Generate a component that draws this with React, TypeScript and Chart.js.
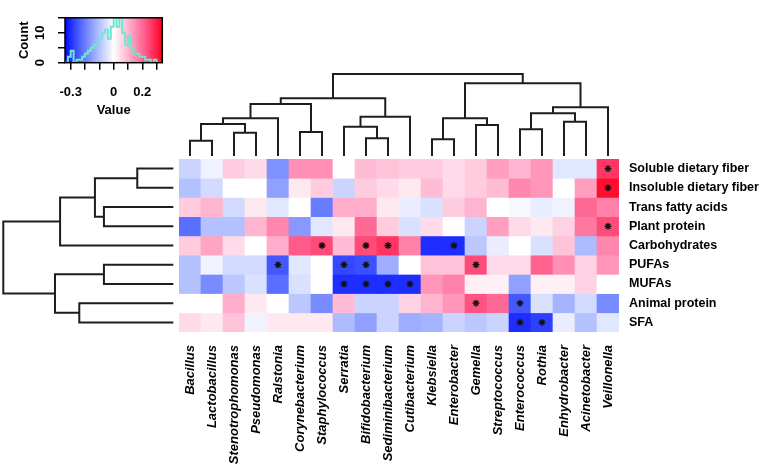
import React, { useEffect, useRef } from 'react';
import { Chart, registerables } from 'chart.js';

Chart.register(...registerables);

const FONT = "'Liberation Sans', Arial, Helvetica, sans-serif";

// ---- data ----
const columns = [
  'Bacillus', 'Lactobacillus', 'Stenotrophomonas', 'Pseudomonas', 'Ralstonia',
  'Corynebacterium', 'Staphylococcus', 'Serratia', 'Bifidobacterium', 'Sediminibacterium',
  'Cutibacterium', 'Klebsiella', 'Enterobacter', 'Gemella', 'Streptococcus',
  'Enterococcus', 'Rothia', 'Enhydrobacter', 'Acinetobacter', 'Veillonella',
];
const rowLabels = [
  'Soluble dietary fiber', 'Insoluble dietary fiber', 'Trans fatty acids', 'Plant protein',
  'Carbohydrates', 'PUFAs', 'MUFAs', 'Animal protein', 'SFA',
];

const solubleFiber = [-0.07, -0.02, 0.07, 0.05, -0.17, 0.15, 0.15, 0.0, 0.09, 0.08, 0.07, 0.07, 0.05, 0.07, 0.13, 0.10, 0.14, -0.04, -0.04, 0.27];
const insolubleFiber = [-0.10, -0.06, 0.0, 0.0, -0.15, 0.03, 0.07, -0.07, 0.07, 0.05, 0.03, 0.09, 0.05, 0.07, 0.09, 0.16, 0.14, 0.0, 0.13, 0.32];
const transFat = [0.07, 0.10, -0.06, 0.03, -0.04, 0.0, -0.20, 0.11, 0.11, 0.03, -0.03, -0.05, 0.07, 0.10, 0.0, -0.01, -0.03, -0.02, 0.20, 0.17];
const plantProtein = [-0.22, -0.10, -0.10, 0.10, 0.16, -0.16, -0.04, 0.03, 0.20, 0.07, -0.05, 0.05, 0.0, -0.07, 0.13, 0.05, 0.03, 0.06, 0.18, 0.24];
const carbohydrates = [0.07, 0.12, 0.05, 0.0, 0.11, 0.22, 0.24, 0.09, 0.24, 0.27, 0.17, -0.30, -0.30, -0.09, -0.03, 0.0, -0.05, 0.08, -0.11, 0.16];
const pufas = [-0.10, -0.02, -0.06, -0.06, -0.25, -0.04, 0.0, -0.27, -0.26, -0.13, 0.0, 0.08, 0.08, 0.24, 0.05, 0.05, 0.21, 0.15, 0.06, 0.14];
const mufas = [-0.10, -0.18, -0.09, -0.05, -0.22, -0.05, 0.0, -0.30, -0.30, -0.30, -0.30, 0.14, 0.17, 0.02, 0.02, -0.15, 0.02, 0.02, 0.06, 0.0];
const animalProtein = [0.0, 0.0, 0.11, 0.03, 0.0, -0.09, -0.18, 0.09, -0.07, -0.07, 0.06, 0.10, 0.14, 0.23, 0.20, -0.25, -0.05, -0.12, -0.06, -0.18];
const sfa = [0.05, 0.03, 0.08, -0.02, 0.03, 0.03, 0.03, -0.11, -0.15, -0.07, -0.13, -0.12, -0.07, -0.09, -0.07, -0.30, -0.28, -0.03, -0.10, -0.04];
const matrix = [solubleFiber, insolubleFiber, transFat, plantProtein, carbohydrates, pufas, mufas, animalProtein, sfa];

// significant cells (asterisks), per row
const significant = [
  ['Veillonella'],
  ['Veillonella'],
  [],
  ['Veillonella'],
  ['Staphylococcus', 'Bifidobacterium', 'Sediminibacterium', 'Enterobacter'],
  ['Ralstonia', 'Serratia', 'Bifidobacterium', 'Gemella'],
  ['Serratia', 'Bifidobacterium', 'Sediminibacterium', 'Cutibacterium'],
  ['Gemella', 'Enterococcus'],
  ['Enterococcus', 'Rothia'],
];

// hclust-style merges: negative = leaf (display position, 1-based), positive = earlier merge
const colMerge = [
  [-1, -2], [-3, -4], [1, 2], [3, -5], [-6, -7], [4, 5], [-9, -10], [-8, 7], [8, -11], [6, 9],
  [-12, -13], [-14, -15], [11, 12], [-16, -17], [-18, -19], [14, 15], [16, -20], [13, 17], [10, 18],
];
const colHeights = [0.187, 0.284, 0.39, 0.46, 0.293, 0.634, 0.216, 0.357, 0.479, 0.704,
  0.204, 0.378, 0.46, 0.326, 0.418, 0.521, 0.594, 0.887, 1.0];
const rowMerge = [[-1, -2], [-3, -4], [1, 2], [3, -5], [-6, -7], [-8, -9], [5, 6], [4, 7]];
const rowHeights = [0.212, 0.408, 0.461, 0.666, 0.408, 0.553, 0.696, 1.0];

// colour key histogram
const keyMin = -0.34;
const keyMax = 0.34;
const histStart = -0.34;
const histStep = 0.02;
const histCounts = [1, 0, 2, 4, 0, 1, 1, 2, 3, 4, 5, 6, 6, 8, 10, 11, 8, 12, 15, 12, 15, 10, 6, 9, 5, 3, 3, 2, 2, 1, 1, 0, 1, 0];
const keyXTicks = [-0.3, -0.2, -0.1, 0, 0.1, 0.2, 0.3];
const keyXLabels = ['-0.3', '', '', '0', '', '0.2', ''];
const keyYTicks = [0, 5, 10, 15];
const keyYLabels = ['0', '', '10', ''];

// ---- helpers ----
function cellColor(v: number): string {
  const t = Math.max(-1, Math.min(1, v / 0.34));
  if (t >= 0) {
    const g = Math.round(255 * (1 - t));
    const b = Math.round(255 * Math.pow(1 - t, 0.6));
    return `rgb(255,${g},${b})`;
  }
  const u = -t;
  const r = Math.round(255 * (1 - u));
  const g = Math.round(255 * Math.pow(1 - u, 0.8));
  return `rgb(${r},${g},255)`;
}

function dendroSegments(merge: number[][], heights: number[]) {
  const pos: number[] = [];
  const nodePos = (id: number) => (id < 0 ? -id - 1 : pos[id - 1]);
  const nodeH = (id: number) => (id < 0 ? 0 : heights[id - 1]);
  const segs: { p: number; h: number }[][] = [];
  merge.forEach(([a, b], i) => {
    const h = heights[i];
    const pa = nodePos(a);
    const pb = nodePos(b);
    segs.push([
      { p: pa, h: nodeH(a) }, { p: pa, h }, { p: pb, h }, { p: pb, h: nodeH(b) },
    ]);
    pos[i] = (pa + pb) / 2;
  });
  return segs;
}

const W = 759;
const H = 469;
const HM_LEFT = 179;
const HM_TOP = 159;
const HM_RIGHT_AXIS = 140;
const HM_BOTTOM_AXIS = 137;

export default function App() {
  const heatRef = useRef<HTMLCanvasElement>(null);
  const colDRef = useRef<HTMLCanvasElement>(null);
  const rowDRef = useRef<HTMLCanvasElement>(null);
  const keyRef = useRef<HTMLCanvasElement>(null);

  useEffect(() => {
    Chart.defaults.color = '#000';
    Chart.defaults.font.family = FONT;
    const charts: Chart[] = [];

    // ---- heatmap ----
    const barSets: any[] = matrix.map((row, r) => ({
      type: 'bar',
      label: rowLabels[r],
      data: row.map(() => 1),
      backgroundColor: row.map((v) => cellColor(v)),
      borderWidth: 0,
      barPercentage: 1,
      categoryPercentage: 1,
      stack: 'heat',
      yAxisID: 'y',
      order: 1,
    }));
    const starPts: { x: string; y: number }[] = [];
    significant.forEach((cols, r) => cols.forEach((c) => starPts.push({ x: c, y: r + 0.5 })));
    const starSet: any = {
      type: 'line',
      label: 'sig',
      data: starPts,
      showLine: false,
      pointStyle: 'star',
      pointRadius: 3.5,
      pointBorderColor: '#111',
      pointBackgroundColor: '#111',
      pointBorderWidth: 1.3,
      yAxisID: 'ys',
      order: 0,
    };
    charts.push(new Chart(heatRef.current!, {
      type: 'bar',
      data: { labels: columns, datasets: [starSet, ...barSets] },
      options: {
        responsive: false,
        animation: false,
        devicePixelRatio: 1,
        events: [],
        layout: { padding: { left: HM_LEFT, top: HM_TOP, right: 0, bottom: 0 } },
        plugins: { legend: { display: false }, tooltip: { enabled: false } },
        scales: {
          x: {
            type: 'category',
            stacked: true,
            position: 'bottom',
            grid: { display: false, drawTicks: false },
            border: { display: false },
            ticks: {
              autoSkip: false,
              minRotation: 90,
              maxRotation: 90,
              padding: 13,
              color: '#000',
              font: { family: FONT, size: 13, weight: 'bold', style: 'italic' },
            },
            afterFit: (s: any) => { s.height = HM_BOTTOM_AXIS; },
          },
          y: {
            type: 'linear',
            stacked: true,
            reverse: true,
            min: 0,
            max: 9,
            position: 'right',
            grid: { display: false, drawTicks: false },
            border: { display: false },
            afterBuildTicks: (s: any) => { s.ticks = rowLabels.map((_, i) => ({ value: i + 0.5 })); },
            ticks: {
              autoSkip: false,
              padding: 10,
              color: '#000',
              font: { family: FONT, size: 12.5, weight: 'bold' },
              callback: (v: any) => rowLabels[Math.floor(Number(v))] ?? '',
            },
            afterFit: (s: any) => { s.width = HM_RIGHT_AXIS; },
          },
          ys: { type: 'linear', min: 0, max: 9, reverse: true, display: false },
        },
      } as any,
    }));

    // ---- column dendrogram ----
    const colSegs = dendroSegments(colMerge, colHeights);
    charts.push(new Chart(colDRef.current!, {
      type: 'scatter',
      data: {
        datasets: colSegs.map((s) => ({
          data: s.map((q) => ({ x: q.p, y: q.h })),
          showLine: true,
          borderColor: '#1e1e1e',
          borderWidth: 2,
          pointRadius: 0,
          clip: false,
        })) as any,
      },
      options: {
        responsive: false,
        animation: false,
        devicePixelRatio: 1,
        events: [],
        layout: { padding: { left: HM_LEFT, right: HM_RIGHT_AXIS, top: 74, bottom: 4 } },
        plugins: { legend: { display: false }, tooltip: { enabled: false } },
        scales: {
          x: { type: 'linear', min: -0.5, max: 19.5, display: false },
          y: { type: 'linear', min: 0, max: 1, display: false },
        },
      } as any,
    }));

    // ---- row dendrogram ----
    const rowSegs = dendroSegments(rowMerge, rowHeights);
    charts.push(new Chart(rowDRef.current!, {
      type: 'scatter',
      data: {
        datasets: rowSegs.map((s) => ({
          data: s.map((q) => ({ x: q.h, y: q.p })),
          showLine: true,
          borderColor: '#1e1e1e',
          borderWidth: 2,
          pointRadius: 0,
          clip: false,
        })) as any,
      },
      options: {
        responsive: false,
        animation: false,
        devicePixelRatio: 1,
        events: [],
        layout: { padding: { left: 3.3, right: 6.7, top: HM_TOP, bottom: HM_BOTTOM_AXIS } },
        plugins: { legend: { display: false }, tooltip: { enabled: false } },
        scales: {
          x: { type: 'linear', min: 0, max: 1, reverse: true, display: false },
          y: { type: 'linear', min: -0.5, max: 8.5, reverse: true, display: false },
        },
      } as any,
    }));

    // ---- colour key ----
    const histPts = histCounts.map((c, i) => ({ x: histStart + histStep * i, y: c }));
    histPts.push({ x: histStart + histStep * histCounts.length, y: histCounts[histCounts.length - 1] });
    const keyPlugin = {
      id: 'keyBg',
      beforeDatasetsDraw(chart: any) {
        const { ctx, chartArea: a } = chart;
        const grad = ctx.createLinearGradient(a.left, 0, a.right, 0);
        const n = 60;
        for (let k = 0; k <= n; k++) {
          const v = keyMin + ((keyMax - keyMin) * k) / n;
          grad.addColorStop(k / n, cellColor(v));
        }
        ctx.save();
        ctx.fillStyle = grad;
        ctx.fillRect(a.left, a.top, a.right - a.left, a.bottom - a.top);
        ctx.restore();
      },
      afterDatasetsDraw(chart: any) {
        const { ctx, chartArea: a } = chart;
        ctx.save();
        ctx.strokeStyle = '#000';
        ctx.lineWidth = 1.5;
        ctx.strokeRect(a.left, a.top, a.right - a.left, a.bottom - a.top);
        ctx.restore();
      },
    };
    charts.push(new Chart(keyRef.current!, {
      type: 'scatter',
      data: {
        datasets: [{
          data: histPts,
          showLine: true,
          stepped: 'after',
          borderColor: '#6fe6cf',
          borderWidth: 2,
          pointRadius: 0,
        }] as any,
      },
      options: {
        responsive: false,
        animation: false,
        devicePixelRatio: 1,
        events: [],
        layout: { padding: { left: 0, right: 17.7, top: 6.7, bottom: 0 } },
        plugins: { legend: { display: false }, tooltip: { enabled: false } },
        scales: {
          x: {
            type: 'linear',
            min: keyMin,
            max: keyMax,
            grid: { display: true, drawOnChartArea: false, drawTicks: true, tickLength: 7, color: '#000', lineWidth: 1.5 },
            border: { display: false },
            afterBuildTicks: (s: any) => { s.ticks = keyXTicks.map((v) => ({ value: v })); },
            ticks: {
              autoSkip: false,
              maxRotation: 0,
              minRotation: 0,
              padding: 15,
              color: '#000',
              font: { family: FONT, size: 13, weight: 'bold' },
              callback: (v: any) => {
                const i = keyXTicks.findIndex((t) => Math.abs(t - Number(v)) < 1e-6);
                return i >= 0 ? keyXLabels[i] : '';
              },
            },
            title: { display: true, text: 'Value', color: '#000', font: { family: FONT, size: 13, weight: 'bold' }, padding: { top: 0, bottom: 12 } },
            afterFit: (s: any) => { s.height = 130 - 62.7; },
          },
          y: {
            type: 'linear',
            min: 0,
            max: 15,
            grid: { display: true, drawOnChartArea: false, drawTicks: true, tickLength: 7, color: '#000', lineWidth: 1.5 },
            border: { display: false },
            afterBuildTicks: (s: any) => { s.ticks = keyYTicks.map((v) => ({ value: v })); },
            ticks: {
              autoSkip: false,
              minRotation: 90,
              maxRotation: 90,
              crossAlign: 'center',
              padding: 10,
              color: '#000',
              font: { family: FONT, size: 13, weight: 'bold' },
              callback: (v: any) => {
                const i = keyYTicks.indexOf(Number(v));
                return i >= 0 ? keyYLabels[i] : '';
              },
            },
            title: { display: true, text: 'Count', color: '#000', font: { family: FONT, size: 13, weight: 'bold' }, padding: { top: 17, bottom: 0 } },
            afterFit: (s: any) => { s.width = 65; },
          },
        },
      } as any,
      plugins: [keyPlugin],
    }));

    return () => charts.forEach((c) => c.destroy());
  }, []);

  const abs = (l: number, t: number, w: number, h: number): React.CSSProperties => ({
    position: 'absolute', left: l, top: t, width: w, height: h,
  });

  return (
    <div style={{ position: 'absolute', left: 0, top: 0, width: W, height: H, background: '#fff', overflow: 'hidden' }}>
      <canvas ref={rowDRef} width={180} height={H} style={abs(0, 0, 180, H)} />
      <canvas ref={colDRef} width={W} height={160} style={abs(0, 0, W, 160)} />
      <canvas ref={keyRef} width={180} height={130} style={abs(0, 0, 180, 130)} />
      <canvas ref={heatRef} width={W} height={H} style={abs(0, 0, W, H)} />
    </div>
  );
}
